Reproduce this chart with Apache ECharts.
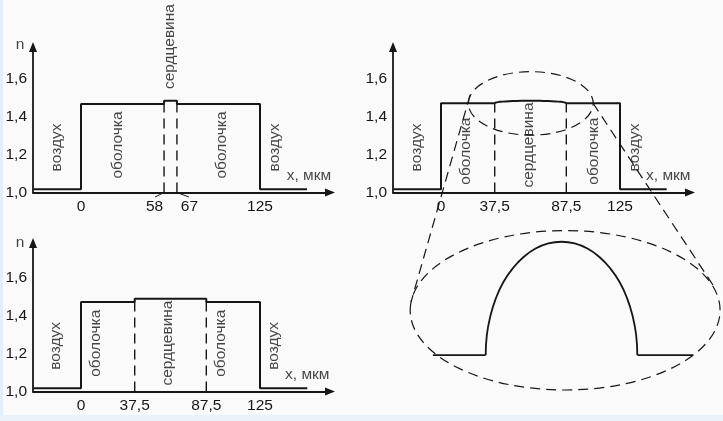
<!DOCTYPE html>
<html><head><meta charset="utf-8">
<script src="https://cdn.jsdelivr.net/npm/echarts@6/dist/echarts.min.js"></script>
<style>html,body{margin:0;padding:0;background:#fafafa}#c{width:723px;height:421px}</style>
</head><body><div id="c"></div>
<script>
// ---------------- data ----------------
const yTickValues = [1.0, 1.2, 1.4, 1.6];
const p1TickValues = [0, 58, 67, 125];
const p2TickValues = [0, 37.5, 87.5, 125];
const p3TickValues = [0, 37.5, 87.5, 125];

// panel 1: step-index profile (x, мкм / n)
const p1X = [-33.5, 0, 0, 58, 58, 67, 67, 125, 125, 157.8];
const p1N = [1.017, 1.017, 1.466, 1.466, 1.483, 1.483, 1.466, 1.466, 1.017, 1.017];
const p1DashX = [58, 67];
const p1DashTop = 1.466;

// panel 2: graded-index profile
const p2LeftX = [-33.5, 0, 0, 37.5];
const p2LeftN = [1.017, 1.017, 1.4695, 1.4695];
const p2CoreX = [37.5, 38.5, 41, 45, 50, 56, 62.5, 69, 75, 80, 84, 86.5, 87.5];
const p2CoreN = [1.4695, 1.474, 1.477, 1.4795, 1.4812, 1.4824, 1.4828, 1.4824, 1.4812, 1.4795, 1.477, 1.474, 1.4695];
const p2RightX = [87.5, 125, 125, 157.6];
const p2RightN = [1.4695, 1.4695, 1.017, 1.017];
const p2DashX = [37.5, 87.5];
const p2DashTop = 1.4695;

// panel 3: step-index profile, wide core
const p3X = [-33.5, 0, 0, 37.5, 37.5, 87.5, 87.5, 125, 125, 158];
const p3N = [1.017, 1.017, 1.471, 1.471, 1.488, 1.488, 1.471, 1.471, 1.017, 1.017];
const p3DashX = [37.5, 87.5];
const p3DashTop = 1.471;

// magnified core of panel 2
const zBaseLeftX = [20.1, 37.5];
const zBaseRightX = [87.5, 105.9];
const zBaseN = 1.47;
const zCoreX = [37.5, 37.88, 39.01, 40.85, 43.35, 46.43, 50.0, 53.95, 58.16, 62.5,
                66.84, 71.05, 75.0, 78.57, 81.65, 84.15, 85.99, 87.12, 87.5];
const zCoreN = [1.4700, 1.4735, 1.4768, 1.4800, 1.4829, 1.4853, 1.4873, 1.4888, 1.4897, 1.4900,
                1.4897, 1.4888, 1.4873, 1.4853, 1.4829, 1.4800, 1.4768, 1.4735, 1.4700];

// magnifier ellipses: [centre x, centre n, half-width (мкм), half-height (n)]
const magnifierSmall = [62.7, 1.469, 43.6, 0.167];   // on panel 2
const magnifierBig = [63.7, 1.4779, 51.1, 0.01407];  // around the magnified view
// connector lines: from panel 2 point to magnified-view point
const connectorFrom = [[20.3, 1.513], [106.1, 1.471]];
const connectorTo = [[12.9, 1.4794], [113.5, 1.4815]];

// text annotations: [text, x, n, rotated]
const p1Texts = [['воздух', -16.8, 1.237, 1], ['оболочка', 25.8, 1.25, 1], ['сердцевина', 62.2, 1.768, 1],
                 ['оболочка', 98.5, 1.25, 1], ['воздух', 135.5, 1.237, 1], ['x, мкм', 159.2, 1.087, 0], ['n', -42.6, 1.776, 0]];
const p2Texts = [['воздух', -17, 1.237, 1], ['оболочка', 17.5, 1.218, 1], ['сердцевина', 61, 1.25, 1],
                 ['оболочка', 106.4, 1.218, 1], ['воздух', 135.5, 1.237, 1], ['x, мкм', 158.7, 1.087, 0]];
const p3Texts = [['воздух', -17.4, 1.24, 1], ['оболочка', 10.5, 1.254, 1], ['сердцевина', 60.4, 1.255, 1],
                 ['оболочка', 97.6, 1.254, 1], ['воздух', 134.8, 1.24, 1], ['x, мкм', 158, 1.087, 0], ['n', -42.6, 1.782, 0]];

// ---------------- chart ----------------
const FONT = '"Liberation Sans", Arial, sans-serif';
const INK = '#161616';
const FS = 15.5;
const PX_PER_N = 190, PX_PER_UM = 1.432;
const XMIN = -48 / PX_PER_UM;
const AXW = 297;
const XMAX = XMIN + AXW / PX_PER_UM;

const zip = (xs, ns) => xs.map((x, i) => [x, ns[i]]);
const fmt = v => (Math.round(v * 10) / 10).toString().replace('.', ',');

const panels = [
  { left: 33, top: 47, height: 145.5, ticks: p1TickValues },
  { left: 393, top: 47, height: 145.5, ticks: p2TickValues },
  { left: 33, top: 243, height: 148.5, ticks: p3TickValues }
];

const grids = panels.map(p => ({ left: p.left, top: p.top, width: AXW, height: p.height, outerBoundsMode: 'none', containLabel: false }));
grids.push({ left: 402.3, top: 213.4, width: 318.4, height: 198.3, outerBoundsMode: 'none', containLabel: false });

const axisLineStyle = { color: INK, width: 1.8 };
const xAxes = panels.map((p, i) => ({
  type: 'value', gridIndex: i, min: XMIN, max: XMAX,
  splitLine: { show: false }, axisTick: { show: false },
  axisLine: { show: true, onZero: false, lineStyle: axisLineStyle, symbol: ['none', 'triangle'], symbolSize: [8, 10] },
  axisLabel: {
    customValues: p.ticks, margin: 6, color: INK, fontSize: FS, fontFamily: FONT,
    formatter: v => {
      if (i === 0 && v === 58) return '{l|58}';
      if (i === 0 && v === 67) return '{r|67}';
      return fmt(v);
    },
    rich: {
      l: { fontSize: FS, fontFamily: FONT, color: INK, padding: [0, 19, 0, 0] },
      r: { fontSize: FS, fontFamily: FONT, color: INK, padding: [0, 0, 0, 25] }
    }
  }
}));
xAxes.push({ type: 'value', gridIndex: 3, min: 10, max: 115, show: false });

const yAxes = panels.map((p, i) => ({
  type: 'value', gridIndex: i, min: 1.0, max: 1.0 + p.height / PX_PER_N,
  splitLine: { show: false }, axisTick: { show: false },
  axisLine: { show: true, onZero: false, lineStyle: axisLineStyle, symbol: ['none', 'triangle'], symbolSize: [8, 10] },
  axisLabel: { customValues: yTickValues, margin: 6, color: INK, fontSize: FS, fontFamily: FONT, formatter: v => v.toFixed(1).replace('.', ',') }
}));
yAxes.push({ type: 'value', gridIndex: 3, min: 1.46, max: 1.495, show: false });

function lineS(g, data, opts) {
  return Object.assign({
    type: 'line', xAxisIndex: g, yAxisIndex: g, data: data, symbol: 'none', showSymbol: false,
    clip: false, silent: true, animation: false,
    lineStyle: { color: INK, width: 2 }
  }, opts || {});
}
function dashS(g, x, top) {
  return lineS(g, [[x, 1.0], [x, top]], { lineStyle: { color: INK, width: 1.4, type: [10, 6] } });
}
function textS(g, items) {
  return {
    type: 'scatter', xAxisIndex: g, yAxisIndex: g, symbolSize: 1, clip: false, silent: true, animation: false, z: 5,
    itemStyle: { color: 'rgba(0,0,0,0)' },
    data: items.map(t => ({ value: [t[1], t[2]], name: t[0], label: { rotate: t[3] ? 90 : 0 } })),
    label: { show: true, position: 'inside', formatter: '{b}', color: INK, fontSize: FS, fontFamily: FONT, align: 'center', verticalAlign: 'middle' }
  };
}

const series = [];
series.push(lineS(0, zip(p1X, p1N)));
p1DashX.forEach(x => series.push(dashS(0, x, p1DashTop)));
series.push(lineS(1, zip(p2LeftX, p2LeftN)));
series.push(lineS(1, zip(p2CoreX, p2CoreN), { smooth: 0.4, smoothMonotone: 'x' }));
series.push(lineS(1, zip(p2RightX, p2RightN)));
p2DashX.forEach(x => series.push(dashS(1, x, p2DashTop)));
series.push(lineS(2, zip(p3X, p3N)));
p3DashX.forEach(x => series.push(dashS(2, x, p3DashTop)));
series.push(lineS(3, zBaseLeftX.map(x => [x, zBaseN]), { lineStyle: { color: INK, width: 1.8 } }));
series.push(lineS(3, zBaseRightX.map(x => [x, zBaseN]), { lineStyle: { color: INK, width: 1.8 } }));
series.push(lineS(3, zip(zCoreX, zCoreN), { smooth: 0.5, lineStyle: { color: INK, width: 1.8 } }));
series.push(textS(0, p1Texts));
series.push(textS(1, p2Texts));
series.push(textS(2, p3Texts));

const chart = echarts.init(document.getElementById('c'), null, { renderer: 'canvas' });
chart.setOption({
  animation: false,
  backgroundColor: '#fafafa',
  textStyle: { fontFamily: FONT },
  grid: grids, xAxis: xAxes, yAxis: yAxes, series: series
});

// annotations placed through the axes' own scales
const px = (g, p) => chart.convertToPixel({ gridIndex: g }, p);
const dashStyle = { fill: 'none', stroke: INK, lineWidth: 1.2, lineDash: [10, 6] };
function ellipseG(g, e) {
  const c = px(g, [e[0], e[1]]);
  const r = px(g, [e[0] + e[2], e[1] + e[3]]);
  return { type: 'ellipse', silent: true, z: 20,
    shape: { cx: c[0], cy: c[1], rx: Math.abs(r[0] - c[0]), ry: Math.abs(r[1] - c[1]) }, style: dashStyle };
}
const graphics = [
  { type: 'rect', silent: true, z: -10, shape: { x: 0, y: 0, width: 3, height: 421 }, style: { fill: '#e4eef8' } },
  { type: 'rect', silent: true, z: -10, shape: { x: 0, y: 415, width: 723, height: 6 }, style: { fill: '#e9f1f9' } },
  ellipseG(1, magnifierSmall),
  ellipseG(3, magnifierBig)
];
connectorFrom.forEach((f, i) => {
  const a = px(1, f), b = px(3, connectorTo[i]);
  graphics.push({ type: 'line', silent: true, z: 20, shape: { x1: a[0], y1: a[1], x2: b[0], y2: b[1] }, style: dashStyle });
});
// leader lines from the core edges of panel 1 to their shifted labels
[[58, -9], [67, 12]].forEach(d => {
  const a = px(0, [d[0], 1.0]);
  graphics.push({ type: 'line', silent: true, z: 20, shape: { x1: a[0], y1: a[1], x2: a[0] + d[1], y2: a[1] + 4.5 }, style: { stroke: INK, lineWidth: 1 } });
});
chart.setOption({ graphic: graphics });
</script>
</body></html>
